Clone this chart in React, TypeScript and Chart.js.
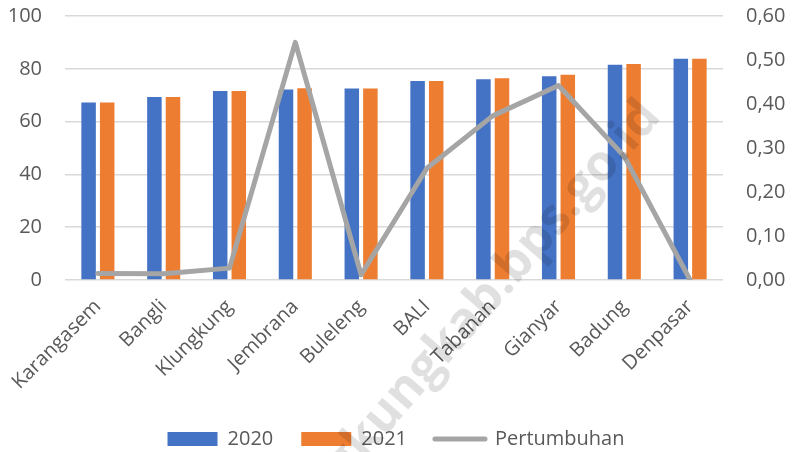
import React, { useEffect, useRef } from "react";
import { Chart, registerables } from "chart.js";

Chart.register(...registerables);

const categories = ["Karangasem", "Bangli", "Klungkung", "Jembrana", "Buleleng", "BALI", "Tabanan", "Gianyar", "Badung", "Denpasar"];
const values2020 = [67.2, 69.3, 71.6, 72.2, 72.5, 75.4, 76.0, 77.2, 81.5, 83.8];
const values2021 = [67.2, 69.3, 71.6, 72.6, 72.5, 75.4, 76.4, 77.7, 81.8, 83.8];
const growth = [0.015, 0.014, 0.027, 0.54, 0.012, 0.254, 0.373, 0.442, 0.281, 0.0];
const leftTicks = [0, 20, 40, 60, 80, 100];
const rightTicks = [0, 0.1, 0.2, 0.3, 0.4, 0.5, 0.6];
const watermark = "klungkungkab.bps.go.id";

const FONT = "'Open Sans', 'Liberation Sans', sans-serif";
const TEXT = "#595959";
const GRID = "#d9d9d9";

const watermarkPlugin = {
  id: "watermark",
  afterDatasetsDraw(chart: any) {
    const { ctx, width, height } = chart;
    ctx.save();
    ctx.translate(width * 0.835, height * 0.26);
    ctx.rotate((-49 * Math.PI) / 180);
    ctx.font = `bold 50px ${FONT}`;
    ctx.fillStyle = "rgba(0,0,0,0.12)";
    ctx.textAlign = "right";
    ctx.textBaseline = "alphabetic";
    ctx.fillText(watermark, 0, 0);
    ctx.restore();
  },
};

export default function App() {
  const ref = useRef<HTMLCanvasElement | null>(null);

  useEffect(() => {
    if (!ref.current) return;
    const chart = new Chart(ref.current, {
      type: "bar",
      data: {
        labels: categories,
        datasets: [
          {
            type: "bar",
            label: "2020",
            data: values2020,
            backgroundColor: "#4472C4",
            borderWidth: 0,
            yAxisID: "y",
            order: 1,
            categoryPercentage: 0.565,
            barPercentage: 0.78,
          },
          {
            type: "bar",
            label: "2021",
            data: values2021,
            backgroundColor: "#ED7D31",
            borderWidth: 0,
            yAxisID: "y",
            order: 1,
            categoryPercentage: 0.565,
            barPercentage: 0.78,
          },
          {
            type: "line",
            label: "Pertumbuhan",
            data: growth,
            borderColor: "#A5A5A5",
            backgroundColor: "#A5A5A5",
            borderWidth: 5,
            borderCapStyle: "round",
            borderJoinStyle: "round",
            pointRadius: 0,
            tension: 0,
            yAxisID: "y1",
            order: 0,
          } as any,
        ],
      },
      options: {
        animation: false,
        responsive: true,
        maintainAspectRatio: false,
        layout: { padding: { left: 7, right: 8, top: 16, bottom: -7 } },
        plugins: {
          tooltip: { enabled: false },
          legend: {
            position: "bottom",
            labels: {
              usePointStyle: true,
              pointStyleWidth: 50,
              boxHeight: 14,
              boxWidth: 50,
              padding: 28,
              color: TEXT,
              font: { family: FONT, size: 20 },
              sort: (a: any, b: any) => a.datasetIndex - b.datasetIndex,
              generateLabels: (chart: any) => {
                const items = Chart.defaults.plugins.legend.labels.generateLabels(chart);
                return items.map((it: any) => {
                  const ds = chart.data.datasets[it.datasetIndex];
                  if (ds.type === "line") {
                    return { ...it, pointStyle: "line", lineWidth: 5, strokeStyle: "#A5A5A5", lineCap: "round" };
                  }
                  return { ...it, pointStyle: "rect", lineWidth: 0 };
                });
              },
            },
          },
        },
        scales: {
          x: {
            grid: { display: false },
            border: { display: false },
            afterFit: (scale: any) => {
              scale.height = 121;
              scale.paddingLeft = 0;
              scale.paddingRight = 0;
            },
            ticks: {
              color: TEXT,
              font: { family: FONT, size: 20 },
              maxRotation: 45,
              minRotation: 45,
              padding: 7,
              labelOffset: 0,
            },
          },
          y: {
            position: "left",
            min: 0,
            max: 100,
            afterBuildTicks: (scale: any) => {
              scale.ticks = leftTicks.map((v) => ({ value: v }));
            },
            afterFit: (scale: any) => {
              scale.width = 58;
              scale.paddingTop = 0;
              scale.paddingBottom = 0;
            },
            grid: { color: GRID, lineWidth: 1.5, drawTicks: false },
            border: { display: false },
            ticks: {
              color: TEXT,
              font: { family: FONT, size: 20 },
              padding: 23,
            },
          },
          y1: {
            position: "right",
            min: 0,
            max: 0.6,
            afterBuildTicks: (scale: any) => {
              scale.ticks = rightTicks.map((v) => ({ value: v }));
            },
            afterFit: (scale: any) => {
              scale.width = 62;
              scale.paddingTop = 0;
              scale.paddingBottom = 0;
            },
            grid: { drawOnChartArea: false, drawTicks: false },
            border: { display: false },
            ticks: {
              color: TEXT,
              font: { family: FONT, size: 20 },
              padding: 23,
              callback: (v: any) => Number(v).toFixed(2).replace(".", ","),
            },
          },
        },
      },
      plugins: [watermarkPlugin],
    });
    return () => chart.destroy();
  }, []);

  return (
    <div style={{ position: "fixed", left: 0, top: 0, width: 793, height: 452, background: "#fff" }}>
      <canvas ref={ref} />
    </div>
  );
}
